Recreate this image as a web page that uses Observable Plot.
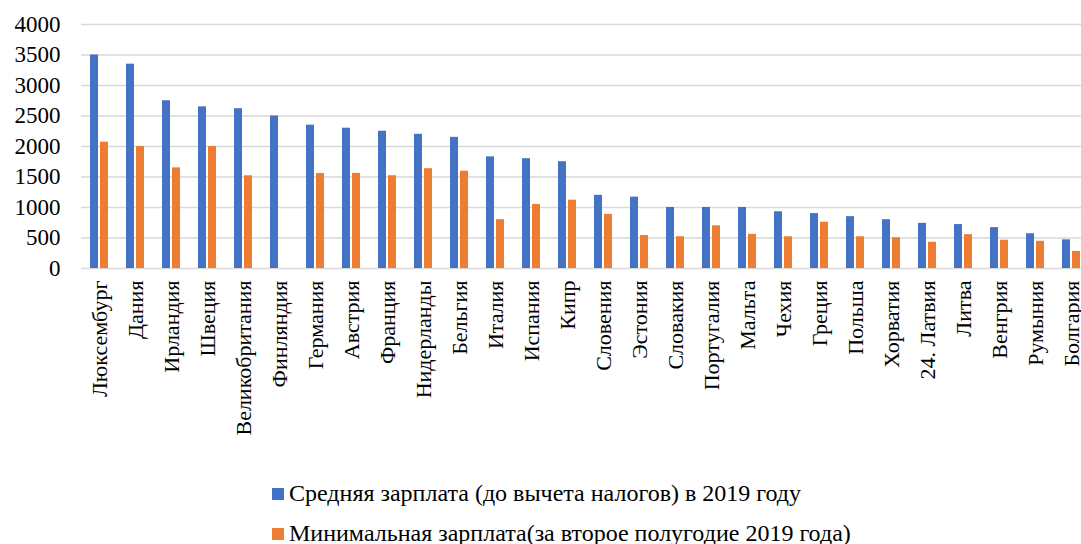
<!DOCTYPE html>
<html>
<head>
<meta charset="utf-8">
<script src="https://cdn.jsdelivr.net/npm/d3@7"></script>
<script src="https://cdn.jsdelivr.net/npm/@observablehq/plot@0.6"></script>
<style>
  html, body { margin: 0; padding: 0; background: #fff; }
  body { width: 1081px; height: 544px; overflow: hidden; font-family: "Liberation Serif", "Times New Roman", serif; }
  svg.chart { max-width: none !important; display: block; }
  .legend { margin-left: 272px; font-size: 24px; color: #000; }
  .legend .row { height: 40px; line-height: 40px; white-space: nowrap; }
  .legend .sw { display: inline-block; width: 12px; height: 12px; margin-right: 5px; vertical-align: 1px; }
</style>
</head>
<body>
<div id="chart"></div>
<script>
const countries = ["Люксембург", "Дания", "Ирландия", "Швеция", "Великобритания", "Финляндия", "Германия", "Австрия", "Франция", "Нидерланды", "Бельгия", "Италия", "Испания", "Кипр", "Словения", "Эстония", "Словакия", "Португалия", "Мальта", "Чехия", "Греция", "Польша", "Хорватия", "24. Латвия", "Литва", "Венгрия", "Румыния", "Болгария"];
const avgWage = [3500, 3350, 2750, 2650, 2620, 2500, 2350, 2300, 2250, 2200, 2150, 1830, 1800, 1750, 1200, 1170, 1000, 1000, 1000, 930, 900, 850, 800, 740, 720, 670, 570, 470];
const minWage = [2070, 2000, 1650, 2000, 1520, null, 1557, 1560, 1521, 1636, 1594, 800, 1050, 1120, 887, 540, 520, 700, 560, 520, 758, 520, 505, 430, 555, 464, 446, 280];
const seriesNames = ["Средняя зарплата (до вычета налогов) в 2019 году", "Минимальная зарплата(за второе полугодие 2019 года)"];
const seriesColors = ["#4472C4", "#ED7D31"];
const yTicks = [0, 500, 1000, 1500, 2000, 2500, 3000, 3500, 4000];

const data = countries.flatMap((c, i) => [
  {country: c, series: seriesNames[0], value: avgWage[i]},
  {country: c, series: seriesNames[1], value: minWage[i]}
]).filter(d => d.value != null);

const chart = Plot.plot({
  width: 1089,
  height: 473,
  marginLeft: 81,
  marginRight: 0,
  marginTop: 24,
  marginBottom: 205,
  className: "chart",
  style: {fontFamily: "Liberation Serif, Times New Roman, serif", fontSize: "22px", color: "#000", background: "#fff"},
  fx: {domain: countries, padding: 0, label: null, axis: null},
  x: {domain: seriesNames, paddingInner: 0.2, paddingOuter: 0.9, axis: null},
  y: {domain: [0, 4000], label: null, axis: null},
  color: {domain: seriesNames, range: seriesColors},
  marks: [
    Plot.gridY(yTicks, {stroke: "#d9d9d9", strokeOpacity: 1, strokeWidth: 1.5}),
    Plot.barY(data, {fx: "country", x: "series", y: "value", fill: "series"}),
    Plot.axisY(yTicks, {tickSize: 0, tickPadding: 21, fontSize: 23, label: null, tickFormat: d => String(d)}),
    Plot.axisFx({anchor: "bottom", tickRotate: -90, tickSize: 0, tickPadding: 12, fontSize: 22, label: null})
  ]
});
document.getElementById("chart").appendChild(chart);

const legend = document.createElement("div");
legend.className = "legend";
seriesNames.forEach((name, i) => {
  const row = document.createElement("div");
  row.className = "row";
  const sw = document.createElement("span");
  sw.className = "sw";
  sw.style.background = seriesColors[i];
  row.appendChild(sw);
  row.appendChild(document.createTextNode(name));
  legend.appendChild(row);
});
document.body.appendChild(legend);
</script>
</body>
</html>
